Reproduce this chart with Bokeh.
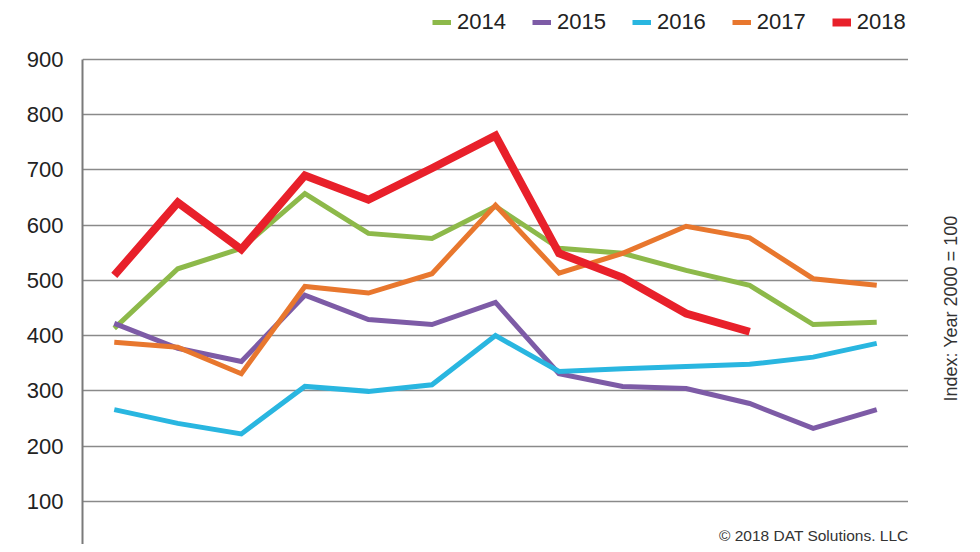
import math
from bokeh.plotting import figure
from bokeh.layouts import row
from bokeh.models import Range1d, FixedTicker, Legend, LegendItem, Label
from bokeh.embed import file_html
from bokeh.resources import INLINE

# ---- data ----
periods = list(range(1, 14))
years = ["2014", "2015", "2016", "2017", "2018"]
v2014 = [413, 521, 558, 657, 585, 576, 634, 558, 549, 518, 491, 420, 424]
v2015 = [422, 377, 353, 473, 429, 420, 460, 331, 308, 304, 277, 232, 266]
v2016 = [266, 241, 222, 308, 299, 311, 400, 335, 340, 344, 348, 361, 386]
v2017 = [388, 379, 331, 489, 477, 512, 636, 513, 549, 598, 577, 503, 491]
v2018 = [509, 641, 556, 690, 646, 703, 762, 549, 505, 440, 407]
y_ticks = [0, 100, 200, 300, 400, 500, 600, 700, 800, 900]

series = [v2014, v2015, v2016, v2017, v2018]
colors = ["#8DB94A", "#7D5BA6", "#29B6E0", "#E8772E", "#E8202A"]
widths = [5, 5, 5, 5, 8]

FONT = "Liberation Sans"

# main chart: the frame spans the full height; the area above 900 holds the legend
p = figure(width=908, height=544, output_backend="svg", toolbar_location=None,
           x_range=Range1d(0.5, 13.5), y_range=Range1d(21.7, 1006.8),
           x_axis_type=None, min_border_left=82, min_border_right=0,
           min_border_top=0, min_border_bottom=0)
p.outline_line_color = None
p.background_fill_color = "white"
p.border_fill_color = "white"

ax = p.yaxis[0]
ax.ticker = FixedTicker(ticks=y_ticks)
ax.bounds = (0, 900)
ax.major_tick_line_color = None
ax.minor_tick_line_color = None
ax.major_tick_out = 0
ax.major_tick_in = 0
ax.major_label_standoff = 19
ax.axis_line_color = "#7a7a7a"
ax.axis_line_width = 2
ax.major_label_text_font = FONT
ax.major_label_text_font_size = "22px"
ax.major_label_text_color = "#222222"

p.xgrid.visible = False
p.ygrid.ticker = FixedTicker(ticks=y_ticks)
p.ygrid.grid_line_color = "#8a8a8a"
p.ygrid.grid_line_width = 1.6

items = []
for name, vals, c, w in zip(years, series, colors, widths):
    r = p.line(periods[:len(vals)], vals, line_color=c, line_width=w,
               line_join="miter")
    items.append(LegendItem(label=name, renderers=[r]))

legend = Legend(items=items, orientation="horizontal", location=(350, 509),
                glyph_width=19, glyph_height=20, label_standoff=6, spacing=26,
                padding=0, margin=0, border_line_color=None,
                background_fill_alpha=0,
                label_text_font=FONT, label_text_font_size="22px",
                label_text_color="#222222")
p.add_layout(legend, "center")

p.add_layout(Label(x=826, y=1, x_units="screen", y_units="screen",
                   text="\u00a9 2018 DAT Solutions. LLC", text_align="right",
                   text_baseline="bottom", text_font=FONT,
                   text_font_size="15.5px", text_color="#333333"))

# narrow side panel holding the vertical index note
side = figure(width=64, height=544, output_backend="svg", toolbar_location=None,
              x_range=Range1d(0, 1), y_range=Range1d(0, 1),
              x_axis_type=None, y_axis_type=None, min_border=0)
side.outline_line_color = None
side.grid.visible = False
side.border_fill_color = "white"
side.add_layout(Label(x=42, y=236, x_units="screen", y_units="screen",
                      text="Index: Year 2000 = 100", angle=math.pi / 2,
                      text_align="center", text_baseline="middle",
                      text_font=FONT, text_font_size="18px",
                      text_color="#333333"))

layout = row(p, side, spacing=0)
open("out.html", "w").write(file_html(layout, INLINE))
